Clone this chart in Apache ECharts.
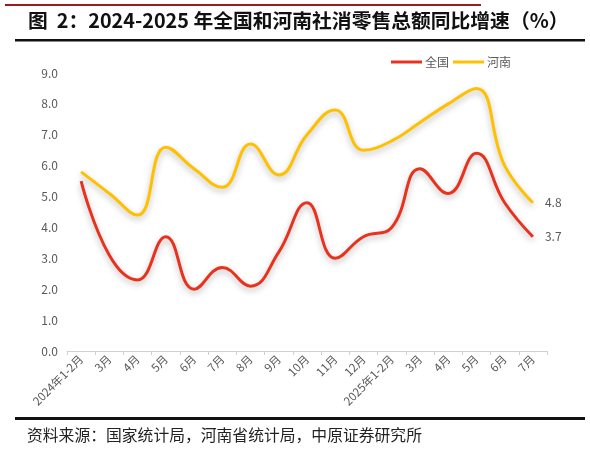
<!DOCTYPE html>
<html>
<head>
<meta charset="utf-8">
<script src="https://cdn.jsdelivr.net/npm/echarts@6/dist/echarts.min.js"></script>
<style>
html,body{margin:0;padding:0;background:#fff;}
#main{width:590px;height:450px;}
</style>
</head>
<body>
<div id="main"></div>
<script>
var categories = ['2024年1-2月','3月','4月','5月','6月','7月','8月','9月','10月','11月','12月','2025年1-2月','3月','4月','5月','6月','7月'];
var nationalValues = [5.5, 3.1, 2.3, 3.7, 2.0, 2.7, 2.1, 3.2, 4.8, 3.0, 3.7, 4.0, 5.9, 5.1, 6.4, 4.8, 3.7];
var henanValues = [5.8, 5.1, 4.4, 6.6, 5.9, 5.3, 6.7, 5.7, 7.0, 7.8, 6.5, 6.8, 7.4, 8.0, 8.5, 6.0, 4.8];
var seriesNames = ['全国', '河南'];
var titleText = '图  2：2024-2025 年全国和河南社消零售总额同比增速（%）';
var sourceText = '资料来源：国家统计局，河南省统计局，中原证券研究所';

var chart = echarts.init(document.getElementById('main'), null, {renderer: 'canvas'});
var font = '"Noto Sans CJK SC", "Noto Sans", sans-serif';
function lineSeries(name, data, color) {
  return {
    name: name,
    type: 'line',
    data: data,
    smooth: 0.45,
    symbol: 'none',
    lineStyle: {
      width: 3,
      color: color,
      shadowColor: 'rgba(0,0,0,0.28)',
      shadowBlur: 6,
      shadowOffsetY: 3
    },
    itemStyle: {color: color},
    endLabel: {
      show: true,
      formatter: function (p) { return p.value.toFixed(1); },
      color: '#595959',
      fontSize: 12,
      fontFamily: font,
      distance: 12
    },
    z: 3
  };
}
chart.setOption({
  animation: false,
  backgroundColor: '#fff',
  textStyle: {fontFamily: font},
  grid: {left: 67, right: 43, top: 73, bottom: 99, containLabel: false},
  legend: {
    data: seriesNames,
    top: 51,
    left: 386,
    itemWidth: 31,
    itemHeight: 3,
    itemGap: 4,
    icon: 'rect',
    textStyle: {color: '#595959', fontSize: 12, fontFamily: font, padding: [0, 0, 0, -2]}
  },
  xAxis: {
    type: 'category',
    data: categories,
    boundaryGap: true,
    axisLine: {lineStyle: {color: '#d0d0d0', width: 1}},
    axisTick: {show: true, length: 4, lineStyle: {color: '#d0d0d0'}},
    axisLabel: {rotate: 45, color: '#595959', fontSize: 11.5, fontFamily: font, interval: 0, margin: 6}
  },
  yAxis: {
    type: 'value',
    min: 0,
    max: 9,
    interval: 1,
    axisLine: {show: false},
    axisTick: {show: false},
    splitLine: {show: false},
    axisLabel: {
      color: '#595959', fontSize: 12, fontFamily: font, margin: 9,
      formatter: function (v) { return v.toFixed(1); }
    }
  },
  series: [
    lineSeries(seriesNames[0], nationalValues, '#e8321e'),
    lineSeries(seriesNames[1], henanValues, '#ffc000')
  ],
  graphic: [
    {type: 'rect', shape: {x: 5, y: 4, width: 476, height: 2}, style: {fill: '#9b1c1f'}},
    {type: 'text', left: 28, top: 11, style: {text: titleText, font: 'bold 19.8px ' + font, fill: '#111'}},
    {type: 'rect', shape: {x: 15, y: 39, width: 570, height: 2.5}, style: {fill: '#111'}},
    {type: 'rect', shape: {x: 15, y: 417, width: 570, height: 3}, style: {fill: '#111'}},
    {type: 'text', left: 27, top: 427, style: {text: sourceText, font: '15.8px ' + font, fill: '#222'}}
  ]
});
</script>
</body>
</html>
